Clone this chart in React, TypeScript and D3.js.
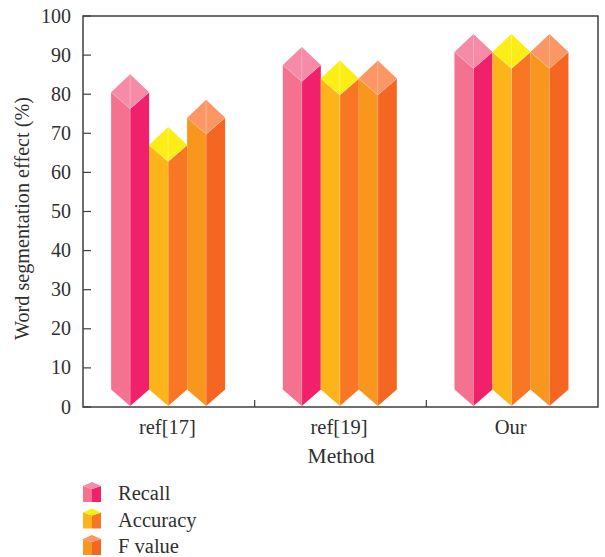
import React from "react";
import * as d3 from "d3";

const methods = ["ref[17]", "ref[19]", "Our"];
const seriesNames = ["Recall", "Accuracy", "F value"];
const recall = [80.5, 87.5, 90.8];
const accuracy = [67, 84, 90.8];
const fValue = [74, 84, 90.8];
const seriesValues = [recall, accuracy, fValue];
const yTicks = d3.range(0, 101, 10);

const palette = [
  { left: "#f4718f", right: "#f0206a", top: "#f58ba6", seam: "#f9b6c6" },
  { left: "#fdb31a", right: "#f97724", top: "#fcee14", seam: "#fdf68a" },
  { left: "#f9961d", right: "#f66623", top: "#fa9764", seam: "#fcc09f" },
];

const W = 605;
const H = 557;
const plot = { left: 83, right: 598, top: 16, bottom: 407 };
const FONT = "'Liberation Serif', serif";
const INK = "#2f2f2f";
const AXIS = "#3f3f3f";

const x = d3.scaleBand<string>().domain(methods).range([plot.left, plot.right]);
const y = d3.scaleLinear().domain([0, 100]).range([plot.bottom, plot.top]);
const barWidth = 38;
const groupShift = -0.7;
const roofRise = 18; // roof peak above the side corners
const frontDrop = 16.5; // front edge below the side corners

// One isometric column: two front faces plus a diamond roof, with a pointed foot.
function Column({ cx, cornerY, baseY, colors }: {
  cx: number; cornerY: number; baseY: number;
  colors: (typeof palette)[number];
}) {
  const half = barWidth / 2;
  const l = cx - half;
  const r = cx + half;
  const front = cornerY + frontDrop;
  const peak = cornerY - roofRise;
  const foot = baseY - frontDrop;
  return (
    <g>
      <path d={`M${l},${cornerY}L${cx},${front}L${cx},${baseY}L${l},${foot}Z`} fill={colors.left} />
      <path d={`M${r},${cornerY}L${cx},${front}L${cx},${baseY}L${r},${foot}Z`} fill={colors.right} />
      <path d={`M${l},${cornerY}L${cx},${peak}L${r},${cornerY}L${cx},${front}Z`} fill={colors.top} />
      <path d={`M${cx},${peak}L${cx},${front}`} stroke={colors.seam} strokeWidth={0.7} fill="none" />
      <path d={`M${l},${cornerY}L${cx},${front}L${r},${cornerY}`} stroke={colors.seam} strokeWidth={0.5} fill="none" />
      <path d={`M${cx},${front}L${cx},${baseY}`} stroke={colors.seam} strokeWidth={0.4} fill="none" />
    </g>
  );
}

// Small flat-footed block used as a legend key.
function LegendKey({ top, colors }: { top: number; colors: (typeof palette)[number] }) {
  const l = 83;
  const c = 92;
  const r = 101;
  const corner = top + 4;
  const front = top + 7;
  const bottom = top + 20;
  return (
    <g>
      <path d={`M${l},${corner}L${c},${front}L${c},${bottom}L${l},${bottom}Z`} fill={colors.left} />
      <path d={`M${r},${corner}L${c},${front}L${c},${bottom}L${r},${bottom}Z`} fill={colors.right} />
      <path d={`M${l},${corner}L${c},${top}L${r},${corner}L${c},${front}Z`} fill={colors.top} />
    </g>
  );
}

export default function App() {
  const band = x.bandwidth();
  return (
    <svg width={W} height={H} style={{ position: "absolute", left: 0, top: 0 }} fontFamily={FONT}>
      <rect width={W} height={H} fill="#fff" />
      {methods.map((m, i) => {
        const center = (x(m) as number) + band / 2 + groupShift;
        return seriesValues.map((vals, s) => (
          <Column
            key={`${m}-${s}`}
            cx={center + (s - 1) * barWidth}
            cornerY={y(vals[i])}
            baseY={y(0) - 1}
            colors={palette[s]}
          />
        ));
      })}

      <rect x={plot.left} y={plot.top} width={plot.right - plot.left} height={plot.bottom - plot.top}
        fill="none" stroke={AXIS} strokeWidth={1.5} />

      {yTicks.map((t) => (
        <g key={t}>
          <line x1={plot.left} x2={plot.left + 8} y1={y(t)} y2={y(t)} stroke={AXIS} strokeWidth={1.2} />
          <text x={plot.left - 12} y={y(t) + 6.5} textAnchor="end" fontSize={20} fill={INK}>{t}</text>
        </g>
      ))}

      {methods.slice(1).map((m) => (
        <line key={m} x1={x(m)} x2={x(m)} y1={plot.bottom} y2={plot.bottom - 7} stroke={AXIS} strokeWidth={1.2} />
      ))}
      {methods.map((m) => (
        <text key={m} x={(x(m) as number) + band / 2 - 1.5} y={434} textAnchor="middle" fontSize={20.5} fill={INK}>{m}</text>
      ))}

      <text x={341} y={463} textAnchor="middle" fontSize={21.5} fill={INK}>Method</text>
      <text transform="translate(29,218.5) rotate(-90)" textAnchor="middle" fontSize={20.2} fill={INK}>
        Word segmentation effect (%)
      </text>

      {seriesNames.map((name, s) => {
        const top = 482 + s * 26.5;
        return (
          <g key={name}>
            <LegendKey top={top} colors={palette[s]} />
            <text x={118} y={top + 18} fontSize={20.5} fill={INK}>{name}</text>
          </g>
        );
      })}
    </svg>
  );
}
